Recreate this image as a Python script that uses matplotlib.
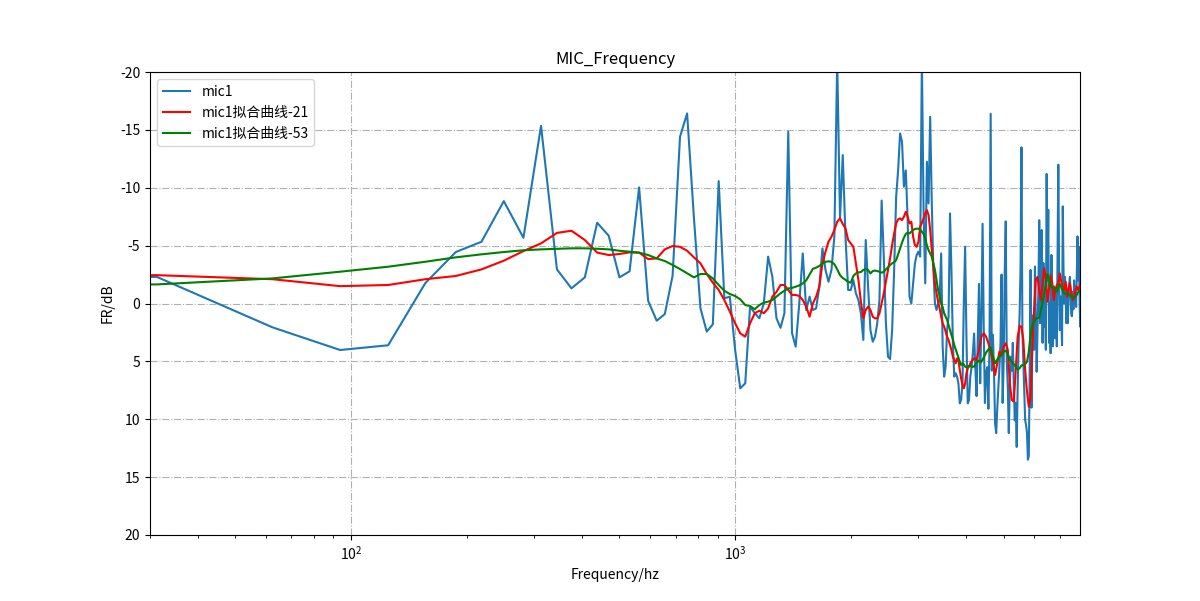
import numpy as np
import matplotlib
matplotlib.use("Agg")
import matplotlib.pyplot as plt

plt.rcParams['font.family'] = ['Noto Sans CJK SC', 'DejaVu Sans']
plt.rcParams['axes.unicode_minus'] = False

# FFT bin spacing (Hz)
bin_hz = 31.25

# mic1 measured response, one value per bin 0..256
mic1_db = [
    -2.3, -2.3, 2.06, 4.02, 3.61, -1.77, -4.45, -5.34, -8.85, -5.68,          # 0-9
    -15.36, -2.95, -1.31, -2.26, -6.98, -5.86, -2.26, -2.78, -10.04, -0.24,   # 10-19
    1.49, 0.91, -2.4, -14.41, -16.43, -7.4, 0.42, 2.43, 1.8, -10.58,          # 20-29
    -0.45, -0.59, 4.0, 7.33, 6.9, 0.27, 0.84, 1.27, 0.0, -4.05,               # 30-39
    -2.32, 1.27, 2.1, 0.84, -14.85, 2.55, 3.73, 0.0, -4.33, 0.56,             # 40-49
    -0.59, 0.56, 0.42, -1.45, -4.76, -2.9, -1.88, -2.9, -5.77, -21.0,         # 50-59
    -7.36, -12.83, -5.77, -1.17, -1.17, -2.03, -0.88, -0.3, 0.85, 3.15,       # 60-69
    -5.49, -1.45, 2.29, 3.3, 2.87, 1.71, -0.3, -8.9, -4.05, 1.71,             # 70-79
    4.6, 4.8, 2.29, -2.9, -9.23, -11.53, -14.7, -13.98, -10.1, -11.5,         # 80-89
    -7.2, -0.59, 0.0, -1.74, -3.47, -4.19, -4.48, -4.05, -21.0, -8.08,        # 90-99
    -1.74, -12.25, -8.65, -16.14, -8.65, -2.9, 0.0, 0.56, 0.0, -0.3,          # 100-109
    -4.33, 3.73, 6.32, 5.46, 2.29, 1.14, -7.79, -2.9, 3.44, 6.32,             # 110-119
    6.03, 6.32, 6.9, 8.63, 8.34, 6.9, 0.0, -4.91, 2.87, 8.63,                 # 120-129
    8.34, 6.32, 5.5, 4.3, 2.6, 5.5, 8.0, 3.0, -1.7, 6.9,                      # 130-139
    1.0, -6.9, 2.3, 8.6, 6.0, 5.5, 9.1, 3.4, -16.4, 5.8,                      # 140-149
    2.7, 6.0, 10.4, 11.2, 9.0, 7.2, 5.5, 3.4, -2.5, 8.6,                      # 150-159
    4.9, -2.6, -7.1, 4.9, 7.2, 11.2, 7.0, 4.6, 5.8, 3.4,                      # 160-169
    7.0, 10.1, 8.6, 12.4, 7.2, 3.4, 1.0, -2.9, -13.5, 2.3,                    # 170-179
    5.0, 7.8, 10.1, 10.5, 11.2, 13.5, 13.2, 6.0, -2.9, 9.0,                   # 180-189
    2.9, 1.0, 4.0, -3.2, 1.5, 5.9, 2.0, -1.0, -7.2, 1.7,                      # 190-199
    -2.0, -6.35, 3.4, -3.5, 2.0, -1.0, 4.0, -11.2, -2.0, -8.1,                # 200-209
    3.4, 0.0, 4.3, -4.2, 0.5, 3.7, -1.5, 1.1, 3.0, -1.0,                      # 210-219
    3.7, -4.0, -12.0, -3.0, 2.3, -0.6, 1.0, 3.6, -8.4, -3.0,                  # 220-229
    0.0, -2.3, -0.5, 1.7, -1.0, 1.7, -0.5, -1.74, -2.3, -0.5,                 # 230-239
    1.0, 1.1, -1.0, 0.5, -2.0, 0.0, -1.5, 0.3, -2.5, -5.8,                    # 240-249
    -2.0, -4.9, -1.0, 2.0, 0.0, -5.0, -1.0,                                   # 250-256
]

# fitted curves: every bin up to 131, then every second bin
fit_bins = list(range(0, 132)) + list(range(132, 257, 2))

fit21_db = [
    -2.46, -2.45, -2.1, -1.5, -1.6, -2.1, -2.38, -2.95, -3.7, -4.53,
    -5.2, -6.1, -6.29, -5.49, -4.4, -4.19, -4.28, -4.42, -4.4, -3.84,
    -3.9, -4.68, -4.97, -4.9, -4.56, -3.99, -3.47, -2.55, -1.8, -1.17,
    -0.3, 0.7, 1.71, 2.58, 2.87, 1.71, 0.84, 0.62, 0.84, 0.42,
    -0.59, -1.0, -1.6, -1.6, -1.17, -0.74, -0.74, -0.65, -0.3, 0.27,
    1.14, 0.0, -0.59, -1.45, -3.47, -4.48, -5.34, -5.77, -6.35, -7.07,
    -7.36, -6.87, -6.5, -5.49, -5.2, -4.9, -3.47, -2.03, -0.16, 1.28,
    0.56, 0.27, 0.56, 1.14, 1.28, 1.28, 0.85, 0.0, -0.88, -1.88,
    -2.89, -3.9, -5.05, -6.06, -6.92, -7.27, -7.36, -7.21, -7.5, -7.93,
    -7.5, -6.92, -7.07, -5.77, -5.05, -4.9, -5.34, -6.64, -6.98, -7.36,
    -7.79, -8.07, -7.64, -6.35, -4.62, -3.18, -1.74, -0.88, -0.16, 0.42,
    1.14, 1.71, 2.0, 2.43, 2.87, 3.16, 3.59, 4.02, 4.6, 4.88,
    5.17, 4.74, 4.88, 5.75, 6.47, 7.05, 7.33, 6.9, 6.04, 5.6,
    5.46, 5.17,
    # even bins 132..256
    5.0, 4.74, 4.88, 4.0, 2.87, 2.58, 2.87, 3.44, 4.16, 5.03,
    6.18, 5.17, 4.16, 4.45, 3.73, 3.44, 4.0, 6.9, 8.34, 8.48,
    5.75, 2.87, 1.95, 2.0, 3.16, 5.75, 7.62, 8.92, 8.05, 3.73,
    0.56, -2.03, -2.3, -1.17, -0.3, -1.74, -3.04, -2.17, -0.16, -1.3,
    -2.46, -1.74, -0.3, -1.17, -1.6, -1.74, -2.6, -1.88, -1.45, -1.17,
    -1.88, -0.59, -1.3, -1.74, -0.88, -0.3, -0.44, -1.17, -1.45, -1.17,
    -1.45, -1.74, -1.3,
]

fit53_db = [
    -1.6, -1.65, -2.17, -2.75, -3.18, -3.61, -3.99, -4.25, -4.45, -4.6,
    -4.68, -4.73, -4.77, -4.77, -4.73, -4.68, -4.56, -4.48, -4.39, -4.19,
    -3.9, -3.67, -3.33, -2.98, -2.61, -2.26, -2.55, -2.55, -2.17, -1.6,
    -1.1, -0.82, -0.65, -0.36, 0.13, 0.22, 0.5, 0.13, -0.07, -0.16,
    -0.3, -0.59, -0.88, -1.1, -1.3, -1.35, -1.45, -1.57, -1.74, -2.0,
    -2.5, -3.0, -3.1, -3.25, -3.45, -3.6, -3.65, -3.6, -3.4, -2.95,
    -2.45, -2.2, -2.05, -1.86, -1.8, -2.38, -2.6, -2.69, -2.72, -2.9,
    -2.98, -2.9, -2.6, -2.8, -2.85, -2.8, -2.75, -2.66, -2.75, -2.95,
    -3.12, -3.33, -3.47, -3.56, -3.76, -4.25, -4.77, -5.26, -5.69, -6.01,
    -6.12, -6.06, -6.2, -6.35, -6.44, -6.47, -6.47, -6.38, -6.2, -6.03,
    -5.6, -5.02, -4.6, -4.33, -4.04, -3.47, -2.9, -2.03, -1.17, -0.66,
    0.0, 0.3, 0.84, 1.14, 1.42, 1.86, 2.29, 2.72, 3.1, 3.59,
    3.96, 4.31, 4.66, 5.03, 5.32, 5.17, 5.26, 5.46, 5.5, 5.46,
    5.4, 5.4,
    # even bins 132..256
    5.46, 5.46, 5.12, 4.94, 5.05, 4.66, 4.25, 3.96, 3.79, 4.6,
    5.17, 4.83, 4.6, 4.48, 4.16, 4.08, 4.37, 4.88, 5.05, 5.23,
    5.46, 5.69, 5.6, 5.35, 5.32, 5.23, 5.03, 4.16, 2.72, 1.86,
    1.57, 1.28, 1.28, 1.22, 0.62, -0.16, -0.88, -1.6, -2.55, -2.17,
    -1.45, -1.4, -1.4, -1.1, -1.02, -1.4, -1.68, -1.4, -1.08, -0.88,
    -0.82, -0.88, -0.79, -0.7, -0.59, -0.53, -0.53, -0.59, -0.76, -0.96,
    -1.1, -1.17, -1.17,
]

freq = np.arange(len(mic1_db)) * bin_hz
fit_freq = np.array(fit_bins) * bin_hz

fig, ax = plt.subplots(figsize=(12, 6.01), dpi=100)
ax.plot(freq, mic1_db, color='#1f77b4', lw=1.5, label='mic1')
ax.plot(fit_freq, fit21_db, color='red', lw=1.5, label='mic1拟合曲线-21')
ax.plot(fit_freq, fit53_db, color='green', lw=1.5, label='mic1拟合曲线-53')
ax.set_xscale('log')
ax.set_xlim(30, 7900)
ax.set_ylim(20, -20)
ax.set_yticks(np.arange(-20, 21, 5))
ax.grid(True, which='major', linestyle='-.', color='#b0b0b0', linewidth=0.8)
ax.set_title('MIC_Frequency')
ax.set_xlabel('Frequency/hz')
ax.set_ylabel('FR/dB')
ax.legend(loc='upper left')
plt.savefig('out.png')
